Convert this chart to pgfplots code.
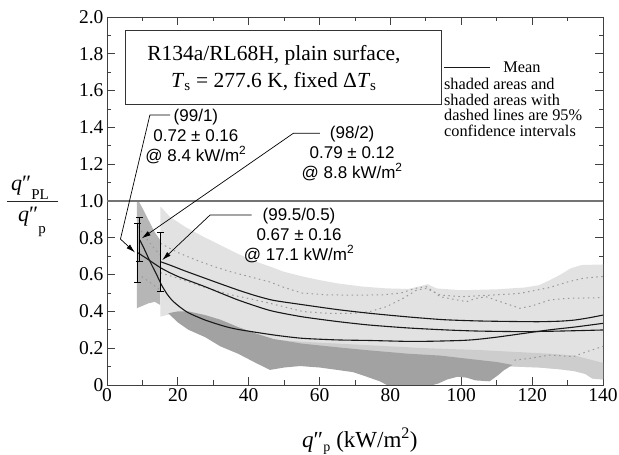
\documentclass[border=0pt]{standalone}
\usepackage{pgfplots}
\pgfplotsset{compat=1.18}
\usepackage{fontspec}
\setmainfont{Liberation Serif}
\setsansfont{Liberation Sans}
\usetikzlibrary{arrows.meta}
\definecolor{lightfill}{HTML}{E2E2E2}
\definecolor{midlight}{HTML}{CDCDCD}
\definecolor{darkfill}{HTML}{A2A2A2}
\definecolor{leftfill}{HTML}{B6B6B6}
\definecolor{dotcol}{HTML}{9A9A9A}
\begin{document}
\begin{tikzpicture}
\begin{axis}[
  scale only axis, width=496pt, height=368pt,
  xmin=0, xmax=140, ymin=0, ymax=2,
  xtick={0,20,40,60,80,100,120,140},
  ytick={0,0.2,0.4,0.6,0.8,1,1.2,1.4,1.6,1.8,2},
  yticklabels={0,0.2,0.4,0.6,0.8,1.0,1.2,1.4,1.6,1.8,2.0},
  minor x tick num=1, minor y tick num=1,
  tick align=inside, major tick length=8pt, minor tick length=4.5pt,
  axis line style={black!75, line width=0.9pt},
  every tick/.style={black!75, line width=0.8pt},
  tick label style={font=\fontsize{19.5}{22}\selectfont},
  /pgf/number format/assume math mode=true,
]
% light CI region (99.5/0.5)
\addplot[fill=lightfill, draw=none] coordinates {
(15.1,0.97)(17.7,0.915)(22,0.86)(27.2,0.806)(32,0.76)(36.6,0.716)(41,0.678)(46.1,0.643)(50,0.615)(55.4,0.589)(60,0.57)(64.8,0.553)(72,0.535)(78.9,0.525)(85,0.522)(88,0.535)(90.5,0.548)(93,0.525)(100,0.515)(110,0.52)(118,0.53)(122,0.543)(125,0.57)(128,0.6)(131,0.635)(134,0.652)(140,0.655)
(140,0.03)(137,0.035)(135,0.06)(132,0.075)(128,0.085)(122,0.095)(115,0.1)(110,0.11)(100,0.12)(85,0.13)(70,0.15)(55,0.19)(45,0.22)(35,0.3)(25,0.35)(18,0.385)(15.1,0.372)
} -- cycle;
% medium-light strip
\addplot[fill=midlight, draw=none] coordinates {
(48,0.245)(55,0.235)(65,0.225)(75,0.215)(90,0.2)(105,0.19)(115,0.18)(125,0.17)(132,0.16)(136,0.14)(140,0.12)
(140,0.03)(137,0.035)(135,0.06)(132,0.075)(128,0.085)(122,0.095)(115,0.1)(110,0.11)(100,0.12)(85,0.13)(70,0.15)(55,0.19)(48,0.22)
} -- cycle;
% dark band
\addplot[fill=darkfill, draw=none] coordinates {
(17.3,0.39)(20,0.4)(23,0.4)(27.7,0.38)(32,0.355)(37,0.315)(42,0.28)(47,0.25)(55,0.225)(65,0.205)(73,0.19)(85,0.17)(94,0.16)(103,0.14)(110,0.125)(114.5,0.109)
(112,0.08)(110.5,0.055)(108,0.02)(104,0.025)(101.5,0.04)(99,0.045)(96,0.03)(93.5,0.008)(92,0)(79,0)(77,0.02)(73.3,0.045)(69.4,0.07)(65,0.082)(60,0.095)(54.5,0.103)(50,0.095)(46,0.082)(42,0.12)(37,0.17)(32,0.21)(27.7,0.26)(23,0.3)(20,0.34)
} -- cycle;
% left region
\addplot[fill=leftfill, draw=none] coordinates {
(8.4,0.417)(8.4,1.0)(8.9,1.0)(9.8,0.969)(11.7,0.897)(13.5,0.83)(15.0,0.788)(15.0,0.435)(13.5,0.452)(11.7,0.444)
} -- cycle;
% dotted CI lines
\pgfplotsset{dotl/.style={dotcol, line width=1pt, dash pattern=on 1.5pt off 3.5pt}}
\addplot[dotl] coordinates {(15.1,0.77)(20,0.72)(25,0.68)(30,0.645)(35,0.615)(40,0.59)(46,0.56)(50,0.53)(55,0.5)(62,0.49)(70,0.488)(78,0.49)(83,0.5)(87,0.525)(90,0.535)(92,0.51)(94,0.48)(98,0.465)(101.5,0.453)(104,0.47)(107,0.48)(111,0.453)(116.6,0.417)(120,0.43)(125,0.462)(130,0.471)(140,0.475)};
\addplot[dotl] coordinates {(15.1,0.61)(20,0.58)(27.7,0.53)(35,0.49)(40,0.47)(46,0.444)(55.4,0.399)(62,0.39)(69.5,0.389)(74.2,0.399)(78.9,0.426)(83.6,0.471)(87.4,0.516)(90.2,0.525)(94,0.489)(100,0.48)(105,0.485)(110,0.49)(116.6,0.498)(125,0.53)(130,0.56)(134.4,0.58)(140,0.59)};
\addplot[dotl] coordinates {(115,0.135)(119.4,0.145)(125,0.163)(131.6,0.154)(135.4,0.181)(140,0.21)};
\addplot[dotl] coordinates {(8.8,0.86)(11,0.8)(13,0.75)(15,0.707)};
\addplot[dotl] coordinates {(9.8,0.589)(12,0.56)(15,0.516)};
% 1.0 reference line
\addplot[color=black!55, line width=1.4pt] coordinates {(0,1) (140,1)};
% mean lines
\pgfplotsset{meanl/.style={black!90, line width=1.1pt, smooth, tension=0.4}}
\addplot[meanl] coordinates {(15.1,0.67)(18,0.65)(22,0.62)(27.7,0.58)(32,0.55)(37,0.516)(42,0.485)(47,0.46)(55,0.437)(65,0.41)(74,0.39)(85,0.37)(95,0.355)(105,0.348)(115,0.345)(122,0.344)(128,0.347)(132,0.353)(136,0.365)(140,0.38)};
\addplot[meanl] coordinates {(8.6,0.72)(11,0.69)(15.4,0.634)(20,0.59)(27.7,0.534)(37,0.462)(46,0.405)(55,0.371)(65,0.345)(74,0.326)(85,0.31)(96,0.299)(105,0.293)(117,0.29)(125,0.292)(132,0.295)(140,0.299)};
\addplot[meanl] coordinates {(9.2,0.79)(10.5,0.74)(12.3,0.665)(14,0.6)(15.5,0.54)(17,0.493)(18.5,0.458)(20.5,0.425)(23,0.392)(27.7,0.353)(33,0.32)(37,0.302)(47,0.272)(55,0.254)(65,0.245)(74,0.242)(85,0.237)(92,0.238)(100,0.242)(104,0.247)(110,0.26)(117.5,0.28)(125,0.3)(132,0.315)(140,0.335)};
% error bars: 0.72 +- 0.16 @ 8.4, 0.79 +- 0.12 @ 8.8, 0.67 +- 0.16 @ 17.1
\pgfplotsset{ebar/.style={black, line width=0.9pt}, ecap/.style={black, only marks, mark=-, mark size=3.5pt, mark options={line width=0.9pt}}}
\addplot[ebar] coordinates {(8.6,0.56)(8.6,0.88)};
\addplot[ebar] coordinates {(9.2,0.67)(9.2,0.91)};
\addplot[ebar] coordinates {(15.1,0.51)(15.1,0.83)};
\addplot[ecap] coordinates {(8.6,0.56)(8.6,0.88)(9.2,0.67)(9.2,0.91)(15.1,0.51)(15.1,0.83)};
% annotation arrows
\draw[black, line width=0.7pt, -{Latex[length=9pt,width=5pt]}] (axis cs:17.8,1.467) -- (axis cs:12.1,1.467) -- (axis cs:3.8,0.793) -- (axis cs:7.9,0.72);
\draw[black, line width=0.7pt, -{Latex[length=9pt,width=5pt]}] (axis cs:60.1,1.368) -- (axis cs:52.6,1.368) -- (axis cs:9.8,0.797);
\draw[black, line width=0.7pt, -{Latex[length=9pt,width=5pt]}] (axis cs:40.8,0.924) -- (axis cs:29.1,0.924) -- (axis cs:15.6,0.679);
% annotation texts
\node[align=center, font=\sffamily\fontsize{17}{20}\selectfont, inner sep=0pt] at (axis cs:25.1,1.353) {(99/1)\\0.72 ± 0.16\\@ 8.4 kW/m\textsuperscript{2}};
\node[align=center, font=\sffamily\fontsize{17}{20}\selectfont, inner sep=0pt] at (axis cs:69.2,1.26) {(98/2)\\0.79 ± 0.12\\@ 8.8 kW/m\textsuperscript{2}};
\node[align=center, font=\sffamily\fontsize{17}{20}\selectfont, inner sep=0pt] at (axis cs:54.2,0.815) {(99.5/0.5)\\0.67 ± 0.16\\@ 17.1 kW/m\textsuperscript{2}};
% title box
\draw[black!80, line width=1pt] (axis cs:5.36,1.924) rectangle (axis cs:94.3,1.527);
\node[font=\fontsize{21.5}{26}\selectfont, inner sep=0pt] at (axis cs:47.1,1.791) {R134a/RL68H, plain surface,};
\node[font=\fontsize{21.5}{26}\selectfont, inner sep=0pt] at (axis cs:47.1,1.647) {\textit{T}\textsubscript{s} = 277.6 K, fixed Δ\textit{T}\textsubscript{s}};
% legend
\draw[black!90, line width=1pt] (axis cs:95.1,1.723) -- (axis cs:108.1,1.723);
\node[anchor=west, font=\fontsize{16.3}{16}\selectfont, inner sep=0pt] at (axis cs:111.8,1.729) {Mean};
\node[anchor=west, align=left, font=\fontsize{16.3}{15.6}\selectfont, inner sep=0pt] at (axis cs:95.1,1.508) {shaded areas and\\shaded areas with\\dashed lines are 95\%\\confidence intervals};
\end{axis}
% axis labels
\node[anchor=base west, font=\fontsize{23}{26}\selectfont, inner sep=0pt] at (195pt,-63pt) {\textit{q}″\raisebox{-4pt}{\fontsize{14}{14}\selectfont p}\hspace{6pt}(kW/m\textsuperscript{2})};
\node[anchor=base west, font=\fontsize{22}{24}\selectfont, inner sep=0pt] at (-96pt,194pt) {\textit{q}″\raisebox{-8.5pt}{\fontsize{15}{15}\selectfont PL}};
\draw[black!85, line width=0.8pt] (-100pt,183.3pt) -- (-48.7pt,183.3pt);
\node[anchor=base west, font=\fontsize{22}{24}\selectfont, inner sep=0pt] at (-89pt,163pt) {\textit{q}″\raisebox{-12pt}{\fontsize{15}{15}\selectfont p}};
\pgfresetboundingbox
\path[use as bounding box] (-107pt,-70pt) rectangle (512pt,385pt);
\end{tikzpicture}
\end{document}
